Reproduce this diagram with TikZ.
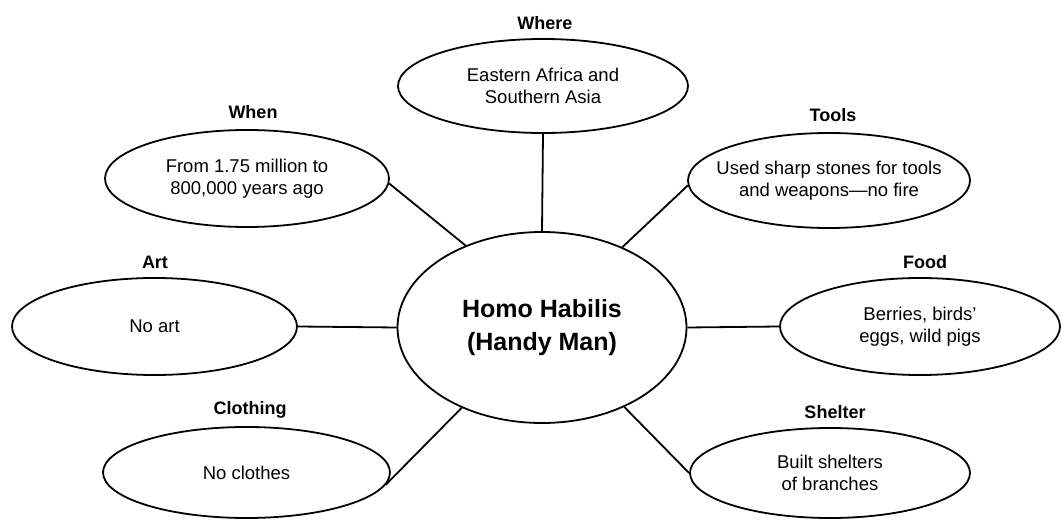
\documentclass[tikz,border=0pt]{standalone}
\usepackage{fontspec}
\setmainfont{Liberation Sans}
\usetikzlibrary{shapes.geometric}
\begin{document}
\begin{tikzpicture}[x=1pt,y=-1pt,
  bubble/.style={ellipse,draw,line width=1.8pt,inner sep=0pt},
  btext/.style={align=center,font=\fontsize{18.5}{22}\selectfont,inner sep=0pt},
  hub/.style={ellipse,draw,line width=1.8pt,inner sep=0pt,align=center,
    font=\fontsize{25}{33}\selectfont\bfseries,minimum width=289pt,minimum height=191pt},
  title/.style={font=\fontsize{18}{22}\selectfont\bfseries,inner sep=0pt},
  link/.style={line width=1.8pt}]
\path[use as bounding box] (0,0) rectangle (1061,521);

\node[hub] (c) at (542,327.5) {Homo Habilis\\(Handy Man)};

\node[bubble,minimum width=290pt,minimum height=94pt,
  label={[btext]center:Eastern Africa and\\Southern Asia}] (where) at (543,86) {};
\node[bubble,minimum width=284pt,minimum height=97pt,
  label={[btext]center:From 1.75 million to\\800,000 years ago}] (when) at (247,178.5) {};
\node[bubble,minimum width=282pt,minimum height=95pt,
  label={[btext]center:Used sharp stones for tools\\and weapons---no fire}] (tools) at (829,180.5) {};
\node[bubble,minimum width=285pt,minimum height=97pt,
  label={[btext]center:No art}] (art) at (154.5,326.5) {};
\node[bubble,minimum width=280pt,minimum height=97pt,
  label={[btext]center:Berries, birds'\\eggs, wild pigs}] (food) at (920,326.5) {};
\node[bubble,minimum width=287pt,minimum height=91pt,
  label={[btext]center:No clothes}] (cloth) at (246.5,472.5) {};
\node[bubble,minimum width=280pt,minimum height=90pt,
  label={[btext]center:Built shelters\\ of branches}] (shelter) at (830,473) {};

\node[title] (twhere) at (545,23) {Where};
\node[title] (twhen) at (253,112) {When};
\node[title] (ttools) at (833,115) {Tools};
\node[title] (tart) at (155,262) {Art};
\node[title] (tfood) at (925,262) {Food};
\node[title] (tcloth) at (250,410) {Clothing};
\node[title] (tshelter) at (835,412) {Shelter};

\draw[link] (where.south) -- (c.north);
\draw[link] (when.-2) -- (c.133);
\draw[link] (c.45.5) -- (tools.182);
\draw[link] (art.east) -- (c.west);
\draw[link] (c.east) -- (food.west);
\draw[link] (cloth.-5) -- (c.225);
\draw[link] (c.-44) -- (shelter.180);
\end{tikzpicture}
\end{document}
